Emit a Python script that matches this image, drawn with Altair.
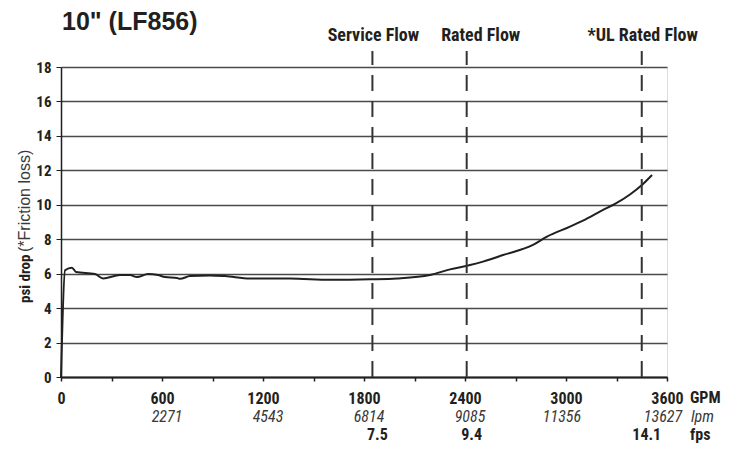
import altair as alt
import pandas as pd

# ---- data ----
gpm = [0, 0, 24, 65, 89, 202, 250, 350, 410, 451, 517, 576, 618, 689, 707, 766, 885, 975,
       1123, 1360, 1598, 1836, 1996, 2192, 2311, 2430, 2507, 2626, 2804, 2887, 3024, 3101,
       3220, 3291, 3380, 3451, 3511]
psi = [0, 0, 6.2, 6.35, 6.1, 5.98, 5.72, 5.92, 5.92, 5.8, 5.98, 5.92, 5.8, 5.75, 5.7, 5.86,
       5.9, 5.86, 5.72, 5.72, 5.64, 5.67, 5.72, 5.92, 6.25, 6.5, 6.7, 7.08, 7.67, 8.15, 8.73,
       9.08, 9.7, 10.05, 10.6, 11.15, 11.73]
order = list(range(len(gpm)))

flow_names = ["Service Flow", "Rated Flow", "*UL Rated Flow"]
flow_gpm = [1850, 2410, 3450]
flow_fps = ["7.5", "9.4", "14.1"]

gpm_ticks = [600, 1200, 1800, 2400, 3000, 3600]
lpm_labels = ["2271", "4543", "6814", "9085", "11356", "13627"]

y_ticks = [0, 2, 4, 6, 8, 10, 12, 14, 16, 18]

NARROW = "'Roboto Condensed', 'Arial Narrow', sans-serif"
WIDE = "'Liberation Sans', Arial, sans-serif"
INK = "#231f20"
GREY = "#3a3a3a"

curve = pd.DataFrame({"gpm": gpm, "psi": psi, "o": order})
flows = pd.DataFrame({"name": flow_names, "gpm": flow_gpm, "fps": flow_fps})
lpm = pd.DataFrame({"gpm": gpm_ticks, "lpm": lpm_labels})

xs = alt.Scale(domain=[0, 3600], nice=False)
ys = alt.Scale(domain=[0, 18], nice=False)

x_axis = alt.Axis(values=list(range(0, 3601, 300)), format="d",
                  labelExpr="datum.value % 600 == 0 ? datum.label : ''",
                  title=None, grid=False, domainColor=INK, domainWidth=2,
                  tickColor=INK, tickSize=4, tickWidth=1.5, labelFont=NARROW,
                  labelFontSize=16, labelFontWeight="bold", labelColor=INK,
                  labelPadding=9, labelFlush=False)
y_axis = alt.Axis(values=y_ticks, title=None, grid=True, gridColor="#4a4a4a",
                  gridWidth=1.3, domainColor=INK, domainWidth=1.5, tickColor=INK,
                  tickSize=5, labelFont=NARROW, labelFontSize=15,
                  labelFontWeight="bold", labelColor=INK, labelPadding=5)

base_line = alt.Chart(curve).mark_line(color=INK, strokeWidth=2,
                                       interpolate="monotone").encode(
    x=alt.X("gpm:Q", scale=xs, axis=x_axis),
    y=alt.Y("psi:Q", scale=ys, axis=y_axis),
    order="o:Q",
)

rules = alt.Chart(flows).mark_rule(color="#333333", strokeWidth=2,
                                   strokeDash=[16, 10]).encode(
    x=alt.X("gpm:Q", scale=xs),
    y=alt.value(310), y2=alt.value(-16),
)

headers_a = alt.Chart(flows).transform_filter("datum.name != 'Rated Flow'").mark_text(
    font=NARROW, fontSize=18, fontWeight="bold", color=INK, baseline="middle", dx=1).encode(
    x=alt.X("gpm:Q", scale=xs), y=alt.value(-31), text="name:N")
headers_b = alt.Chart(flows).transform_filter("datum.name == 'Rated Flow'").mark_text(
    font=NARROW, fontSize=18, fontWeight="bold", color=INK, baseline="middle", dx=14).encode(
    x=alt.X("gpm:Q", scale=xs), y=alt.value(-31), text="name:N")

fps_text = alt.Chart(flows).mark_text(font=NARROW, fontSize=16, fontWeight="bold",
                                      color=INK, baseline="middle", dx=5).encode(
    x=alt.X("gpm:Q", scale=xs),
    y=alt.value(368),
    text="fps:N",
)

lpm_short = alt.Chart(lpm).transform_filter("length(datum.lpm) < 5").mark_text(
    font=NARROW, fontSize=16, fontStyle="italic", color=GREY, baseline="middle",
    dx=5).encode(x=alt.X("gpm:Q", scale=xs), y=alt.value(350), text="lpm:N")
lpm_long = alt.Chart(lpm).transform_filter("length(datum.lpm) >= 5").mark_text(
    font=NARROW, fontSize=16, fontStyle="italic", color=GREY, baseline="middle",
    dx=-4).encode(x=alt.X("gpm:Q", scale=xs), y=alt.value(350), text="lpm:N")

unit_df = pd.DataFrame({"t": ["GPM", "lpm", "fps"], "row": [0, 1, 2]})
unit_gpm = alt.Chart(unit_df).transform_filter("datum.row == 0").mark_text(
    font=NARROW, fontSize=16, fontWeight="bold", color=INK, align="left",
    baseline="middle").encode(x=alt.value(629), y=alt.value(331), text="t:N")
unit_lpm = alt.Chart(unit_df).transform_filter("datum.row == 1").mark_text(
    font=NARROW, fontSize=16, fontStyle="italic", color=GREY, align="left",
    baseline="middle").encode(x=alt.value(630), y=alt.value(350), text="t:N")
unit_fps = alt.Chart(unit_df).transform_filter("datum.row == 2").mark_text(
    font=NARROW, fontSize=16, fontWeight="bold", color=INK, align="left",
    baseline="middle").encode(x=alt.value(629), y=alt.value(368), text="t:N")

title_df = pd.DataFrame({"t": ['10" (LF856)']})
title = alt.Chart(title_df).mark_text(font=WIDE, fontSize=25, fontWeight="bold",
                                      color=INK, align="left",
                                      baseline="middle").encode(
    x=alt.value(1), y=alt.value(-45), text="t:N")

yt_df = pd.DataFrame({"t": ["psi drop", "(*Friction loss)"], "k": [0, 1]})
ytitle_a = alt.Chart(yt_df).transform_filter("datum.k == 0").mark_text(
    font=NARROW, fontSize=15, fontWeight="bold", color=INK, align="left",
    baseline="middle", angle=270).encode(x=alt.value(-36), y=alt.value(236), text="t:N")
ytitle_b = alt.Chart(yt_df).transform_filter("datum.k == 1").mark_text(
    font=WIDE, fontSize=16, color=GREY, align="left",
    baseline="middle", angle=270).encode(x=alt.value(-36), y=alt.value(185), text="t:N")

chart = alt.layer(base_line, rules, headers_a, headers_b, fps_text, lpm_short, lpm_long,
                  unit_gpm, unit_lpm, unit_fps, title, ytitle_a, ytitle_b).properties(
    width=606, height=310, autosize="none",
    padding={"left": 53, "top": 59, "right": 64, "bottom": 70},
).configure_view(stroke=None).configure(background="white")

chart.save("out.html", embed_options={"renderer": "svg", "actions": False})
